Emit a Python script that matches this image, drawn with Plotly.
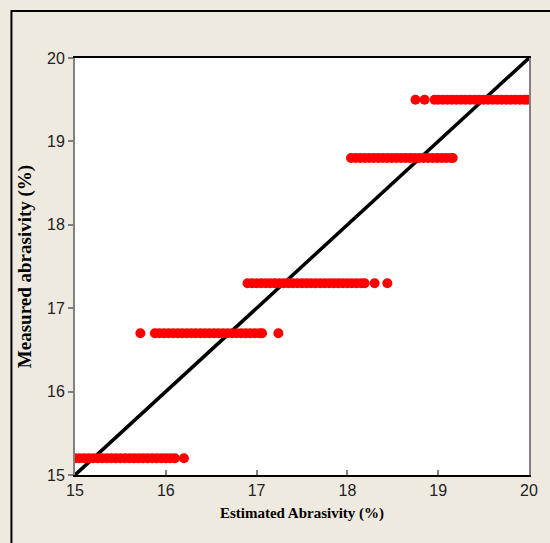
import plotly.graph_objects as go

# Estimated abrasivity (x) values observed at each measured abrasivity level (y)
lvl_152_x = [15.00, 15.05, 15.10, 15.15, 15.20, 15.25, 15.30, 15.35, 15.40, 15.45, 15.50,
             15.55, 15.60, 15.65, 15.70, 15.75, 15.80, 15.85, 15.90, 15.95, 16.00, 16.05,
             16.10, 16.20]
lvl_167_x = [15.72, 15.88, 15.93, 15.98, 16.03, 16.08, 16.13, 16.18, 16.23, 16.28, 16.33,
             16.38, 16.43, 16.48, 16.53, 16.58, 16.63, 16.68, 16.73, 16.78, 16.83, 16.88,
             16.93, 16.98, 17.03, 17.06, 17.24]
lvl_173_x = [16.90, 16.95, 17.00, 17.05, 17.10, 17.15, 17.20, 17.25, 17.30, 17.35, 17.40,
             17.45, 17.50, 17.55, 17.60, 17.65, 17.70, 17.75, 17.80, 17.85, 17.90, 17.95,
             18.00, 18.05, 18.10, 18.15, 18.19, 18.30, 18.44]
lvl_188_x = [18.04, 18.09, 18.14, 18.19, 18.24, 18.29, 18.34, 18.39, 18.44, 18.49, 18.54,
             18.59, 18.64, 18.69, 18.74, 18.79, 18.84, 18.89, 18.94, 18.99, 19.04, 19.09,
             19.14, 19.16]
lvl_195_x = [18.75, 18.85, 18.96, 19.00, 19.05, 19.10, 19.15, 19.20, 19.25, 19.30, 19.35,
             19.40, 19.45, 19.50, 19.55, 19.60, 19.65, 19.70, 19.75, 19.80, 19.85, 19.90,
             19.95, 19.98]
levels = [15.2, 16.7, 17.3, 18.8, 19.5]
level_x = [lvl_152_x, lvl_167_x, lvl_173_x, lvl_188_x, lvl_195_x]

diag = [15, 20]
ticks = [15, 16, 17, 18, 19, 20]

xs, ys = [], []
for lv, xv in zip(levels, level_x):
    xs += xv
    ys += [lv] * len(xv)

fig = go.Figure()
fig.add_trace(go.Scatter(x=diag, y=diag, mode="lines",
                         line=dict(color="black", width=3.5), showlegend=False))
fig.add_trace(go.Scatter(x=xs, y=ys, mode="markers",
                         marker=dict(color="#ff0000", size=10, line=dict(width=0)),
                         showlegend=False))

tickfont = dict(family="Liberation Sans, Arial", size=16, color="#222222")
serif = "Liberation Serif, Times New Roman, serif"

fig.update_layout(
    width=550, height=543,
    margin=dict(l=75, r=18, t=58, b=68),
    paper_bgcolor="#eeeae0",
    plot_bgcolor="white",
    xaxis=dict(range=[15, 20], tickvals=ticks, ticks="inside", ticklen=5,
               tickcolor="#808080", tickwidth=1.5,
               showline=True, linecolor="black", linewidth=1.5, mirror=True,
               showgrid=False, zeroline=False, tickfont=tickfont,
               title=dict(text="<b>Estimated Abrasivity (%)</b>",
                          font=dict(family=serif, size=15, color="black"), standoff=10)),
    yaxis=dict(range=[15, 20], tickvals=ticks, ticks="outside", ticklen=5,
               tickcolor="#808080", tickwidth=1.5,
               showline=True, linecolor="#808080", linewidth=2, mirror=True,
               showgrid=False, zeroline=False, tickfont=tickfont,
               title=dict(text="<b>Measured abrasivity (%)</b>",
                          font=dict(family=serif, size=19, color="black"),
                          standoff=10)),
    shapes=[dict(type="rect", xref="paper", yref="paper",
                 x0=-0.140, x1=1.3, y0=-0.4, y1=1.1127,
                 line=dict(color="black", width=2), fillcolor="rgba(0,0,0,0)", layer="below")],
)

fig.write_html("out.html")
